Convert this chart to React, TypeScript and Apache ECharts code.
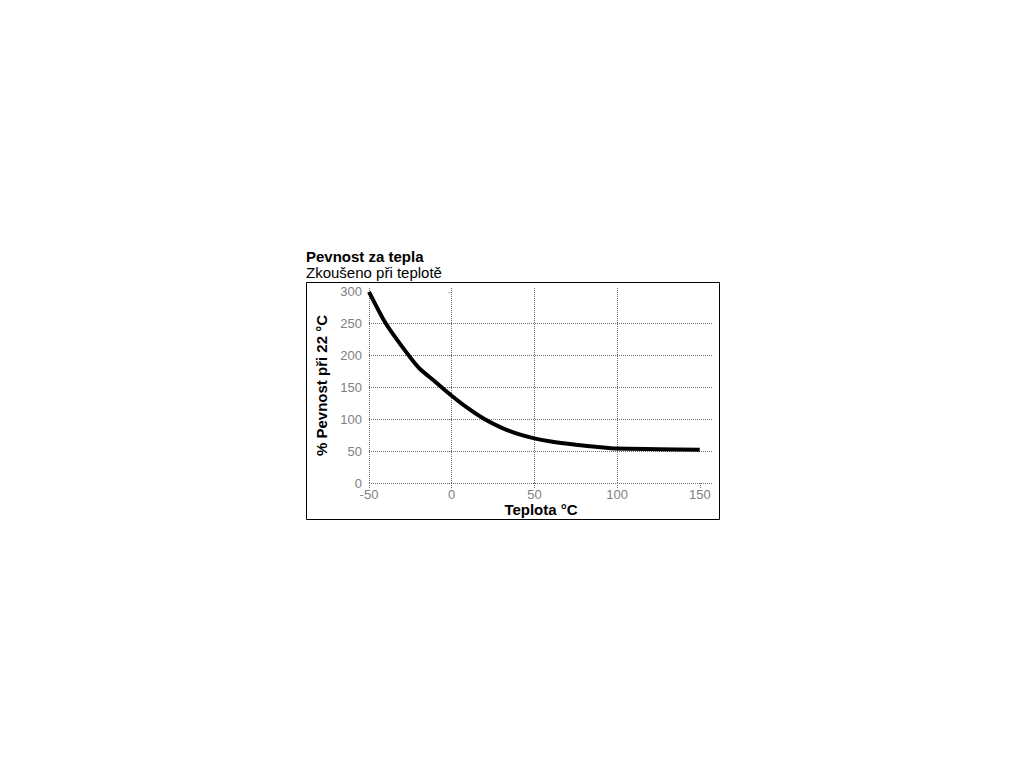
import React, { useEffect, useRef } from "react";
import * as echarts from "echarts";

const temps = [-50, -40, -30, -20, -10, 0, 10, 20, 30, 40, 50, 60, 75, 90, 100, 125, 150];
const strength = [300, 251, 214, 181, 159, 137, 117, 100, 87, 77, 70, 65, 60, 56, 54, 53, 52];
const xTicks = [-50, 0, 50, 100, 150];
const yTicks = [0, 50, 100, 150, 200, 250, 300];
const title = "Pevnost za tepla";
const subtitle = "Zkoušeno při teplotě";
const xName = "Teplota °C";
const yName = "% Pevnost při 22 °C";

const FONT = "'Liberation Sans', Arial, sans-serif";

export default function App() {
  const ref = useRef<HTMLDivElement>(null);
  useEffect(() => {
    if (!ref.current) return;
    const chart = echarts.init(ref.current, null, { renderer: "svg" });
    const gridLine = { color: "#707070", width: 1, type: [1, 1] as any };
    chart.setOption({
      animation: false,
      backgroundColor: "#ffffff",
      grid: { left: 369, right: 311, top: 288, bottom: 285, containLabel: false },
      xAxis: {
        type: "value",
        min: -50,
        max: 158,
        interval: 50,
        name: xName,
        nameLocation: "middle",
        nameGap: 18,
        nameTextStyle: { fontFamily: FONT, fontSize: 15, fontWeight: "bold", color: "#000" },
        axisLine: { show: false },
        axisTick: { show: true, length: 5, lineStyle: gridLine, customValues: xTicks },
        axisLabel: {
          customValues: xTicks,
          color: "#808080",
          fontFamily: FONT,
          fontSize: 13,
          margin: 5,
        },
        splitLine: { show: true, lineStyle: gridLine, showMaxLine: false, showMinLine: true },
      },
      yAxis: {
        type: "value",
        min: 0,
        max: 306,
        interval: 50,
        name: yName,
        nameLocation: "middle",
        nameGap: 40,
        nameTextStyle: { fontFamily: FONT, fontSize: 15, fontWeight: "bold", color: "#000" },
        axisLine: { show: false },
        axisTick: { show: true, length: 4, lineStyle: gridLine, customValues: yTicks },
        axisLabel: {
          customValues: yTicks,
          color: "#808080",
          fontFamily: FONT,
          fontSize: 13,
          margin: 7,
        },
        splitLine: { show: true, lineStyle: gridLine, showMaxLine: false, showMinLine: true },
      },
      series: [
        {
          type: "line",
          data: temps.map((t, i) => [t, strength[i]]),
          smooth: 0.25,
          showSymbol: false,
          lineStyle: { color: "#000", width: 4 },
          clip: false,
        },
      ],
      graphic: [
        {
          type: "rect",
          shape: { x: 306.5, y: 282.5, width: 413, height: 237 },
          style: { fill: "none", stroke: "#000", lineWidth: 1 },
          z: 10,
        },
        {
          type: "text",
          x: 306,
          y: 249,
          style: { text: title, font: `bold 15px ${FONT}`, fill: "#000" },
        },
        {
          type: "text",
          x: 306,
          y: 265,
          style: { text: subtitle, font: `15px ${FONT}`, fill: "#000" },
        },
      ],
    });
    return () => chart.dispose();
  }, []);
  return (
    <div
      ref={ref}
      style={{ position: "absolute", left: 0, top: 0, width: 1024, height: 768 }}
    />
  );
}
